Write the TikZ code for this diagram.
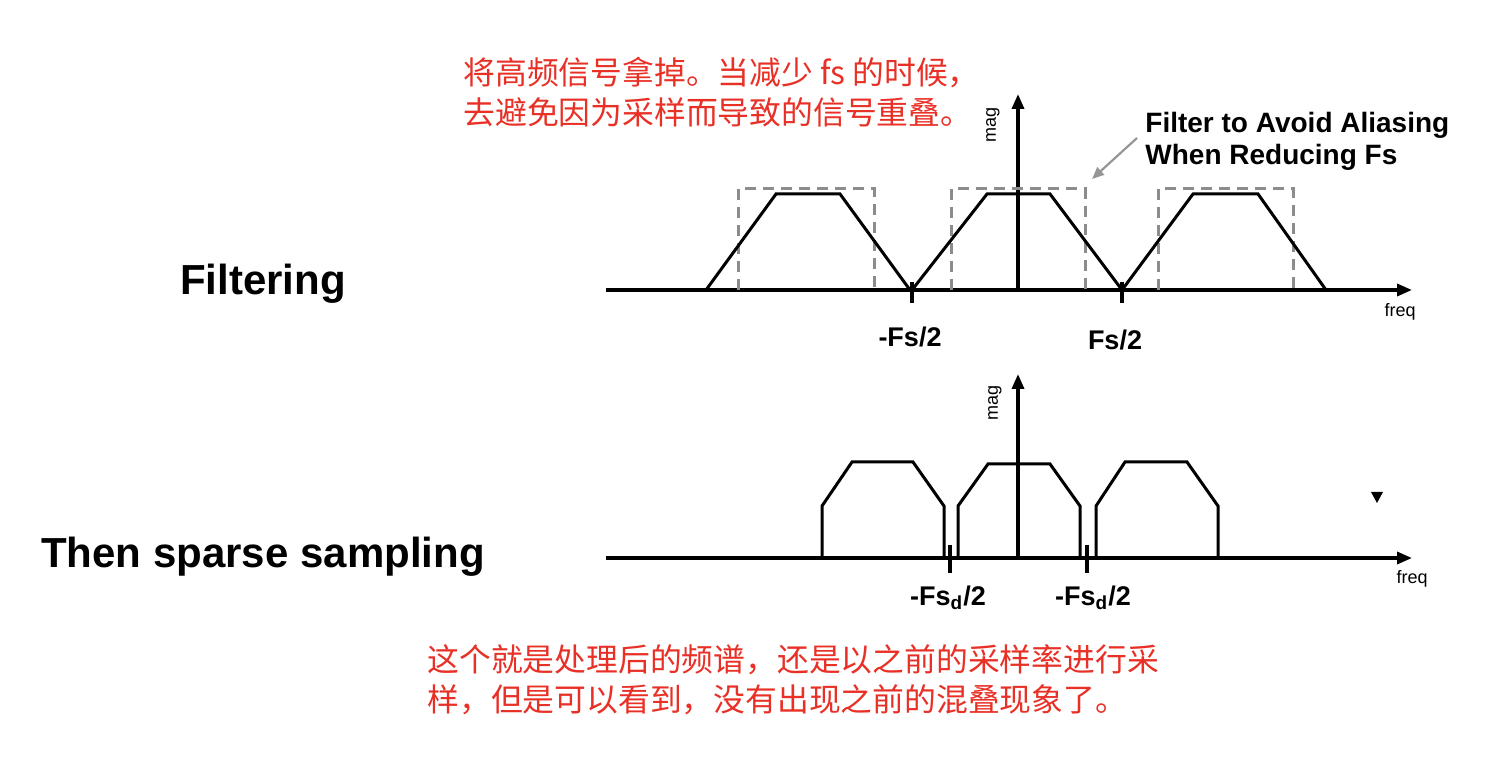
\documentclass[tikz,border=0pt]{standalone}
\usepackage{fontspec}
\setmainfont{Liberation Sans}
\newfontfamily\cjk{Noto Sans CJK SC}
\usetikzlibrary{arrows.meta}
\definecolor{anno}{RGB}{232,48,38}
\definecolor{boxgray}{RGB}{140,140,140}
\definecolor{arrgray}{RGB}{150,150,150}
\begin{document}
\begin{tikzpicture}[x=0.5pt,y=-0.5pt,
  axis/.style={line width=1.7pt,-{Triangle[length=7.5pt,width=6pt]}},
  spec/.style={line width=1.5pt,line join=miter},
  filt/.style={boxgray,line width=1.5pt,dash pattern=on 5.5pt off 3.5pt},
  tickmark/.style={line width=1.6pt},
  bigtitle/.style={font=\fontsize{21}{25}\selectfont\bfseries},
  freqlab/.style={font=\bfseries\fontsize{13.5}{16}\selectfont},
  small/.style={font=\fontsize{9}{10}\selectfont},
  redtext/.style={anno,anchor=west,inner sep=0pt,font=\cjk\fontsize{15.9}{18}\selectfont},
  pointer/.style={arrgray,line width=1.1pt,-{Triangle[length=6pt,width=5pt]}}
]
\useasboundingbox (0,0) rectangle (1504,758);

% ---------- annotations ----------
\node[redtext] (cn1) at (463,73) {将高频信号拿掉。当减少 fs 的时候，};
\node[redtext] (cn2) at (463,112) {去避免因为采样而导致的信号重叠。};
\node[redtext] (cn3) at (427,660) {这个就是处理后的频谱，还是以之前的采样率进行采};
\node[redtext] (cn4) at (427,700) {样，但是可以看到，没有出现之前的混叠现象了。};

\node[bigtitle] (filtering) at (263,284) {Filtering};
\node[bigtitle] (sparse) at (263,557) {Then sparse sampling};

% ---------- top chart ----------
\coordinate (tx0) at (606,290);
\coordinate (tx1) at (1412,290);
\coordinate (ty0) at (1018,290);
\coordinate (ty1) at (1018,94);
\draw[axis] (tx0) -- (tx1);
\draw[axis] (ty0) -- (ty1);
\node[small,rotate=90] (mag1) at (993,125) {mag};
\node[small] (freq1) at (1400,312) {freq};

% dashed filters
\draw[filt] (738,290) -- (738,189) -- (874,189) -- (874,290);
\draw[filt] (951,290) -- (951,189) -- (1085,189) -- (1085,290);
\draw[filt] (1158,290) -- (1158,189) -- (1293,189) -- (1293,290);

% spectra
\draw[spec] (706,290) -- (776,194) -- (840,194) -- (910,290);
\draw[spec] (912,290) -- (987,194) -- (1050,194) -- (1122,290);
\draw[spec] (1122,290) -- (1193,194) -- (1258,194) -- (1326,290);

\draw[tickmark] (912,282) -- (912,303);
\draw[tickmark] (1122,282) -- (1122,303);
\node[freqlab] (mfs) at (910,337) {-Fs/2};
\node[freqlab] (pfs) at (1115,340) {Fs/2};

\node[anchor=west,align=left,inner sep=0pt,font=\fontsize{14}{16}\selectfont\bfseries] (filtnote) at (1145,141) {Filter to Avoid Aliasing\\When Reducing Fs};
\coordinate (pstart) at (1137,138);
\coordinate (pend) at (1092,179);
\draw[pointer] (pstart) -- (pend);

% ---------- bottom chart ----------
\coordinate (bx0) at (606,558);
\coordinate (bx1) at (1412,558);
\coordinate (by0) at (1018,558);
\coordinate (by1) at (1018,374);
\draw[axis] (bx0) -- (bx1);
\draw[axis] (by0) -- (by1);
\node[small,rotate=90] (mag2) at (995,403) {mag};
\node[small] (freq2) at (1412,579) {freq};

\draw[spec] (822,558) -- (822,506) -- (852,462) -- (913,462) -- (944,506) -- (944,558);
\draw[spec] (958,558) -- (958,506) -- (988,464) -- (1050,464) -- (1080,506) -- (1080,558);
\draw[spec] (1096,558) -- (1096,506) -- (1125,462) -- (1187,462) -- (1218,506) -- (1218,558);

\draw[tickmark] (950,545) -- (950,573);
\draw[tickmark] (1087,545) -- (1087,573);
\node[freqlab] (mfsd1) at (948,598) {-Fs\textsubscript{d}/2};
\node[freqlab] (mfsd2) at (1093,598) {-Fs\textsubscript{d}/2};

\fill (1371,492) -- (1383,492) -- (1377,503) -- cycle;
\end{tikzpicture}
\end{document}
